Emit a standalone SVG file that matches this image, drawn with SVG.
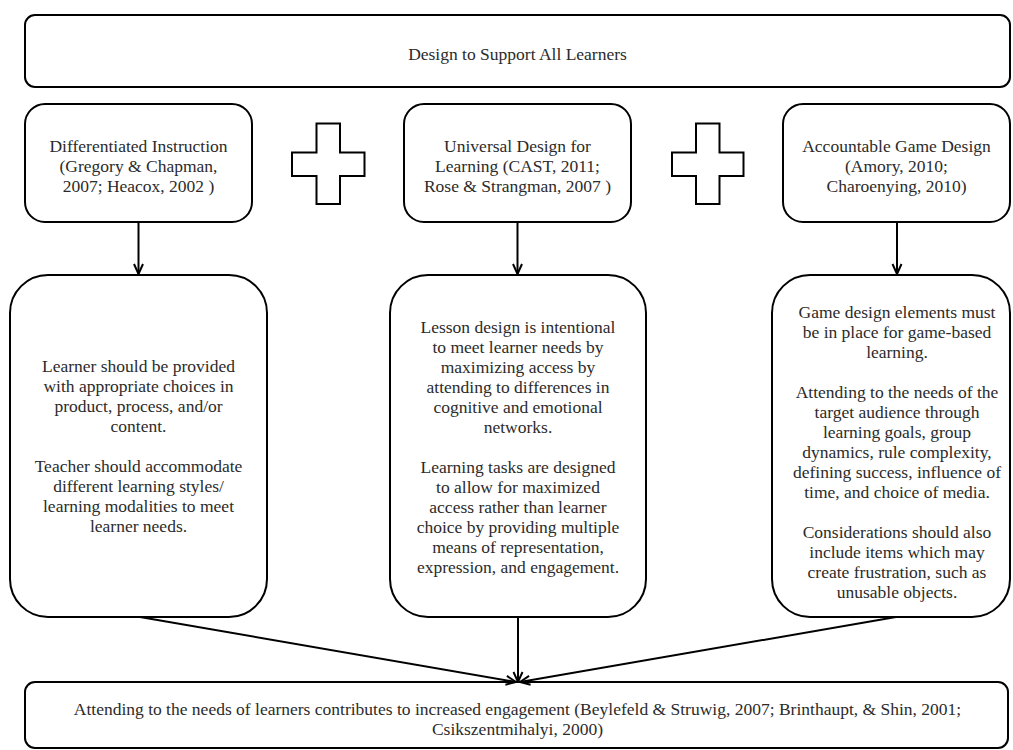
<svg xmlns="http://www.w3.org/2000/svg" width="1013" height="750" viewBox="0 0 1013 750">
  <style>
    .box { fill: #ffffff; stroke: #000000; stroke-width: 2; }
    .plus { fill: #ffffff; stroke: #000000; stroke-width: 2; stroke-linejoin: miter; }
    .txt { font-family: "Liberation Serif", "Times New Roman", serif; font-size: 17.5px; fill: #2b2b2b; text-anchor: middle; }
    .edge { fill: none; stroke: #000000; stroke-width: 2; }
  </style>
  <defs>
    <marker id="arrow" viewBox="0 0 12 12" refX="11" refY="6" markerWidth="12" markerHeight="12" markerUnits="userSpaceOnUse" orient="auto">
      <path d="M1,1.5 L11,6 L1,10.5" fill="none" stroke="#000000" stroke-width="2"/>
    </marker>
  </defs>

  <rect x="0" y="0" width="1013" height="750" fill="#ffffff"/>

  <!-- title banner -->
  <g id="title">
    <rect class="box" x="25" y="15" width="985" height="72" rx="10" ry="10"/>
    <text class="txt" x="517.5" y="59.5">Design to Support All Learners</text>
  </g>

  <!-- three approaches -->
  <g id="differentiated-instruction">
    <rect class="box" x="25" y="104" width="227" height="118" rx="20" ry="20"/>
    <text class="txt" x="138.5" y="151.5">Differentiated Instruction</text>
    <text class="txt" x="138.5" y="171.5">(Gregory &amp; Chapman,</text>
    <text class="txt" x="138.5" y="191.5">2007; Heacox, 2002 )</text>
  </g>

  <g id="plus-1">
    <path class="plus" d="M316.5,123.5 H340 V152.5 H364.5 V176 H340 V204 H316.5 V176 H292 V152.5 H316.5 Z"/>
  </g>

  <g id="universal-design">
    <rect class="box" x="404" y="104" width="227" height="118" rx="20" ry="20"/>
    <text class="txt" x="517.5" y="151.5">Universal Design for</text>
    <text class="txt" x="517.5" y="171.5">Learning (CAST, 2011;</text>
    <text class="txt" x="517.5" y="191.5">Rose &amp; Strangman, 2007 )</text>
  </g>

  <g id="plus-2">
    <path class="plus" d="M696,123.5 H719.5 V152.5 H743.5 V176 H719.5 V204 H696 V176 H672 V152.5 H696 Z"/>
  </g>

  <g id="game-design">
    <rect class="box" x="783" y="104" width="227" height="118" rx="20" ry="20"/>
    <text class="txt" x="896.5" y="151.5">Accountable Game Design</text>
    <text class="txt" x="896.5" y="171.5">(Amory, 2010;</text>
    <text class="txt" x="896.5" y="191.5">Charoenying, 2010)</text>
  </g>

  <!-- detail boxes -->
  <g id="di-detail">
    <rect class="box" x="10" y="275" width="257" height="342" rx="38" ry="38"/>
    <text class="txt" x="138.5" y="372">Learner should be provided</text>
    <text class="txt" x="138.5" y="392">with appropriate choices in</text>
    <text class="txt" x="138.5" y="412">product, process, and/or</text>
    <text class="txt" x="138.5" y="432">content.</text>
    <text class="txt" x="138.5" y="472">Teacher should accommodate</text>
    <text class="txt" x="138.5" y="492">different learning styles/</text>
    <text class="txt" x="138.5" y="512">learning modalities to meet</text>
    <text class="txt" x="138.5" y="532">learner needs.</text>
  </g>

  <g id="udl-detail">
    <rect class="box" x="390" y="275" width="256" height="342" rx="38" ry="38"/>
    <text class="txt" x="518" y="333">Lesson design is intentional</text>
    <text class="txt" x="518" y="353">to meet learner needs by</text>
    <text class="txt" x="518" y="373">maximizing access by</text>
    <text class="txt" x="518" y="393">attending to differences in</text>
    <text class="txt" x="518" y="413">cognitive and emotional</text>
    <text class="txt" x="518" y="433">networks.</text>
    <text class="txt" x="518" y="473">Learning tasks are designed</text>
    <text class="txt" x="518" y="493">to allow for maximized</text>
    <text class="txt" x="518" y="513">access rather than learner</text>
    <text class="txt" x="518" y="533">choice by providing multiple</text>
    <text class="txt" x="518" y="553">means of representation,</text>
    <text class="txt" x="518" y="573">expression, and engagement.</text>
  </g>

  <g id="game-detail">
    <rect class="box" x="772" y="275" width="238" height="342" rx="38" ry="38"/>
    <text class="txt" x="897" y="318">Game design elements must</text>
    <text class="txt" x="897" y="338">be in place for game-based</text>
    <text class="txt" x="897" y="358">learning.</text>
    <text class="txt" x="897" y="398">Attending to the needs of the</text>
    <text class="txt" x="897" y="418">target audience through</text>
    <text class="txt" x="897" y="438">learning goals, group</text>
    <text class="txt" x="897" y="458">dynamics, rule complexity,</text>
    <text class="txt" x="897" y="478">defining success, influence of</text>
    <text class="txt" x="897" y="498">time, and choice of media.</text>
    <text class="txt" x="897" y="538">Considerations should also</text>
    <text class="txt" x="897" y="558">include items which may</text>
    <text class="txt" x="897" y="578">create frustration, such as</text>
    <text class="txt" x="897" y="598">unusable objects.</text>
  </g>

  <!-- outcome -->
  <g id="outcome">
    <rect class="box" x="25" y="682" width="983" height="66" rx="10" ry="10"/>
    <text class="txt" x="517.5" y="715">Attending to the needs of learners contributes to increased engagement (Beylefeld &amp; Struwig, 2007; Brinthaupt, &amp; Shin, 2001;</text>
    <text class="txt" x="517.5" y="735">Csikszentmihalyi, 2000)</text>
  </g>

  <!-- connectors -->
  <g id="connectors">
    <line class="edge" x1="138.5" y1="222" x2="138.5" y2="274" marker-end="url(#arrow)"/>
    <line class="edge" x1="517.5" y1="222" x2="517.5" y2="274" marker-end="url(#arrow)"/>
    <line class="edge" x1="897" y1="223" x2="897" y2="274" marker-end="url(#arrow)"/>
    <line class="edge" x1="140" y1="617" x2="516" y2="682" marker-end="url(#arrow)"/>
    <line class="edge" x1="518" y1="617" x2="518" y2="682" marker-end="url(#arrow)"/>
    <line class="edge" x1="896" y1="617" x2="520" y2="682" marker-end="url(#arrow)"/>
  </g>
</svg>
